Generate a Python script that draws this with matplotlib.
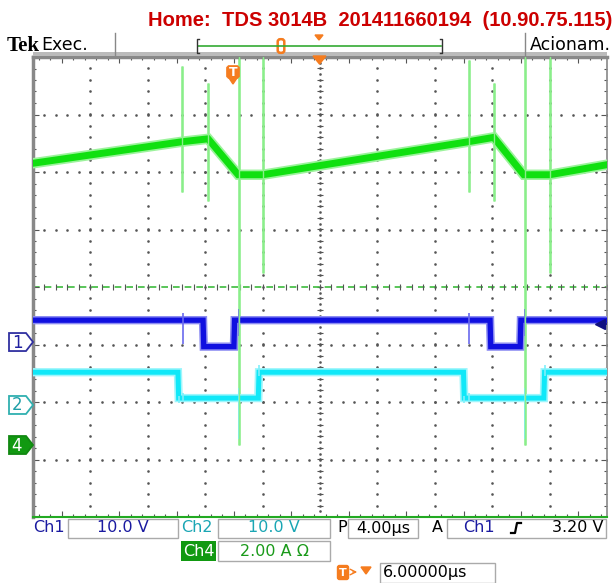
import matplotlib.pyplot as plt
import numpy as np
from matplotlib.patches import Rectangle, Polygon, FancyBboxPatch
from matplotlib.ticker import MultipleLocator

# time axis: 4 us/div, trigger (T) at 0, delay 6 us -> screen spans -14..26 us
T_LEFT, T_RIGHT = -14.0, 26.0
US_PER_DIV = 4.0

# channel settings (volts or amps per div, ground position in divisions from centre)
ch1_scale, ch1_ground = 10.0, -0.957
ch2_scale, ch2_ground = 10.0, -2.052
ch4_scale, ch4_ground = 2.0, -2.748
ch1_trig_level = 3.2

# Ch1 (blue) gate signal
ch1_t = [-14, -2.15, -2.1, 0.0, 0.05, 17.85, 17.9, 19.95, 20.0, 26]
ch1_v = [3.8, 3.8, -0.8, -0.8, 3.8, 3.8, -0.8, -0.8, 3.8, 3.8]
ch1_spike_t = [-3.55, 0.35, 16.4, 20.3]
ch1_spike_lo = [-0.3, 1.0, -0.3, 1.0]
ch1_spike_hi = [5.0, 5.8, 5.0, 5.8]

# Ch2 (cyan) gate signal
ch2_t = [-14, -3.9, -3.85, 1.7, 1.75, 16.0, 16.05, 21.6, 21.65, 26]
ch2_v = [5.7, 5.7, 1.2, 1.2, 5.7, 5.7, 1.2, 1.2, 5.7, 5.7]
ch2_spike_t = [-3.85, -3.55, 0.35, 1.75, 16.05, 16.4, 20.3, 21.65]
ch2_spike_lo = [0.4, 0.5, -6.0, 5.0, 0.4, 0.5, -6.0, 5.0]
ch2_spike_hi = [1.5, 2.0, 3.0, 7.0, 1.5, 2.0, 3.0, 7.0]

# Ch4 (green) current
ch4_t = [-14, -3.6, -1.8, 0.3, 2.0, 16.35, 18.1, 20.2, 22.0, 26]
ch4_a = [9.8, 10.55, 10.65, 9.4, 9.4, 10.55, 10.7, 9.4, 9.4, 9.75]
ch4_spike_t = [-3.6, -1.8, 0.35, 2.0, 16.35, 18.1, 20.3, 22.0]
ch4_spike_lo = [8.8, 8.5, 0.0, 6.0, 8.8, 8.5, 0.0, 6.0]
ch4_spike_hi = [13.2, 12.6, 14.5, 14.5, 13.4, 12.6, 14.5, 14.5]

BLUE = '#1010E0'
CYAN = '#10E8F8'
GREEN = '#10E010'
SPIKE = '#8AEE8A'
ORANGE = '#F57C1F'
RED = '#CC0000'


def to_div(vals, scale, ground):
    return [ground + v / scale for v in vals]


W, H = 614, 583
fig = plt.figure(figsize=(W / 100, H / 100), dpi=100)
fig.patch.set_facecolor('white')

ax = fig.add_axes([33 / W, (H - 517) / H, 574 / W, 460 / H])
ax.set_xlim(T_LEFT, T_RIGHT)
ax.set_ylim(-4, 4)
ax.set_facecolor('white')

# graticule dots
minor = US_PER_DIV / 5
xs_minor = np.arange(T_LEFT, T_RIGHT + 0.01, minor)
ys_minor = np.arange(-4, 4.01, 0.2)
for gy in [-3, -2, -1, 1, 2, 3]:
    ax.plot(xs_minor, [gy] * len(xs_minor), ls='none', marker='s', ms=0.8,
            color='#555555', zorder=1)
for k in range(1, 10):
    gx = T_LEFT + k * US_PER_DIV
    if k == 5:
        continue
    ax.plot([gx] * len(ys_minor), ys_minor, ls='none', marker='s', ms=0.8,
            color='#555555', zorder=1)

# centre lines
centre_t = T_LEFT + 5 * US_PER_DIV
ys_fine = np.arange(-4, 4.01, 0.1)
ax.plot([centre_t] * len(ys_fine), ys_fine, ls='none', marker='s', ms=0.8,
        color='#555555', zorder=1)
ax.plot([centre_t] * len(ys_minor), ys_minor, ls='none', marker='_', ms=5,
        mew=0.8, color='#555555', zorder=1)
ax.axhline(0, color='#3DBB3D', lw=1.2, ls=(0, (4, 3)), zorder=1)
ax.plot(xs_minor, [0] * len(xs_minor), ls='none', marker='|', ms=4,
        mew=0.8, color='#555555', zorder=1)

# border ticks
ax.xaxis.set_major_locator(MultipleLocator(US_PER_DIV))
ax.xaxis.set_minor_locator(MultipleLocator(minor))
ax.yaxis.set_major_locator(MultipleLocator(1))
ax.yaxis.set_minor_locator(MultipleLocator(0.2))
ax.tick_params(which='both', direction='in', top=True, right=True,
               labelbottom=False, labelleft=False, color='#555555', width=0.8)
ax.tick_params(which='major', length=4)
ax.tick_params(which='minor', length=2.5)
for side in ['left', 'top', 'right']:
    ax.spines[side].set_color('#888888')
ax.spines['left'].set_linewidth(2.5)
ax.spines['top'].set_linewidth(2.5)
ax.spines['right'].set_linewidth(1.2)
ax.spines['bottom'].set_color('#22AA22')
ax.spines['bottom'].set_linewidth(1.5)

# traces: wide pale halo + core, to mimic the noisy band
y1 = to_div(ch1_v, ch1_scale, ch1_ground)
y2 = to_div(ch2_v, ch2_scale, ch2_ground)
y4 = to_div(ch4_a, ch4_scale, ch4_ground)

ax.vlines(ch4_spike_t, to_div(ch4_spike_lo, ch4_scale, ch4_ground),
          to_div(ch4_spike_hi, ch4_scale, ch4_ground), color=SPIKE, lw=1.8, zorder=2)

ax.plot(ch2_t, y2, color='#9FF6FC', lw=6.0, zorder=3, solid_joinstyle='miter')
ax.plot(ch2_t, y2, color=CYAN, lw=3.6, zorder=3, solid_joinstyle='miter')
ax.vlines(ch2_spike_t, to_div(ch2_spike_lo, ch2_scale, ch2_ground),
          to_div(ch2_spike_hi, ch2_scale, ch2_ground), color='#7FEFFA', lw=1.2, zorder=3)

ax.plot(ch1_t, y1, color='#8C8CF2', lw=6.0, zorder=4, solid_joinstyle='miter')
ax.plot(ch1_t, y1, color=BLUE, lw=3.8, zorder=4, solid_joinstyle='miter')
ax.vlines(ch1_spike_t, to_div(ch1_spike_lo, ch1_scale, ch1_ground),
          to_div(ch1_spike_hi, ch1_scale, ch1_ground), color='#6A6AEE', lw=1.2, zorder=4)

ax.plot(ch4_t, y4, color='#9CF39C', lw=7.5, zorder=5, solid_joinstyle='miter')
ax.plot(ch4_t, y4, color=GREEN, lw=5.0, zorder=5, solid_joinstyle='miter')
ax.vlines(ch4_spike_t, to_div(ch4_spike_lo, ch4_scale, ch4_ground),
          to_div(ch4_spike_hi, ch4_scale, ch4_ground), color=SPIKE, lw=1.0, zorder=5)

# Ch1 trigger level arrow on the right edge
trig_y = ch1_ground + ch1_trig_level / ch1_scale
ax.plot([T_RIGHT - 0.5], [trig_y], marker='<', ms=7, color='#101080', zorder=6,
        clip_on=False)
ax.plot([T_RIGHT - 0.5, T_RIGHT], [trig_y, trig_y], color='#101080', lw=1.2, zorder=6)

# ---- overlay in pixel coordinates for header / footer decorations ----
ov = fig.add_axes([0, 0, 1, 1], zorder=10)
ov.set_xlim(0, W)
ov.set_ylim(H, 0)
ov.axis('off')
ov.patch.set_alpha(0)

ov.text(612, 21, 'Home:  TDS 3014B  201411660194  (10.90.75.115)', color=RED,
        fontsize=14.5, fontweight='bold', family='Liberation Sans', ha='right', va='center')
ov.text(7, 46, 'Tek', fontsize=15, fontweight='bold', family='Liberation Serif',
        va='center', ha='left')
ov.text(41, 45, 'Exec.', fontsize=12.5, family='DejaVu Sans', va='center', ha='left')
ov.text(611, 45, 'Acionam.', fontsize=12.5, family='DejaVu Sans', va='center', ha='right')
ov.plot([115, 115], [33, 55], color='#888888', lw=1)
ov.plot([525, 525], [33, 55], color='#888888', lw=1)
ov.add_patch(Rectangle((33, 52), 574, 4, color='#BBBBBB', lw=0))

# record view bar
ov.plot([198, 441], [46, 46], color='#33AA33', lw=1.2)
ov.plot([199, 197, 197, 199], [39, 39, 53, 53], color='#333333', lw=1)
ov.plot([440, 442, 442, 440], [39, 39, 53, 53], color='#333333', lw=1)
ov.add_patch(FancyBboxPatch((278.5, 40), 5, 12, boxstyle='round,pad=0.8,rounding_size=2.5',
                            fc='white', ec=ORANGE, lw=1.8))
ov.add_patch(Polygon([[315, 35], [323, 35], [319, 40]], color=ORANGE))
# centre marker on graticule top
ov.add_patch(Polygon([[313, 56], [326, 56], [319.5, 64]], color=ORANGE))
# trigger position marker
ov.add_patch(FancyBboxPatch((227, 66), 12, 12, boxstyle='round,pad=0.5,rounding_size=3',
                            fc=ORANGE, ec=ORANGE, lw=0.5))
ov.add_patch(Polygon([[229, 78], [237, 78], [233, 84]], color=ORANGE))
ov.text(233, 72.5, 'T', color='white', fontsize=9, fontweight='bold', ha='center',
        va='center', family='DejaVu Sans')


def ground_marker(label, y, edge, face, tcolor):
    pts = [[9, y - 9], [26, y - 9], [33, y], [26, y + 9], [9, y + 9]]
    ov.add_patch(Polygon(pts, closed=True, fc=face, ec=edge, lw=1.3))
    ov.text(17, y + 0.5, label, color=tcolor, fontsize=12, ha='center', va='center',
            family='DejaVu Sans')


def px_y(div):
    return 287 - div * 57.5


ground_marker('1', px_y(ch1_ground), '#3030A0', 'white', '#2020A0')
ground_marker('2', px_y(ch2_ground), '#30B0B0', 'white', '#209FA8')
ground_marker('4', px_y(ch4_ground), '#118811', '#119911', 'white')


def box(x0, x1, y0, y1):
    ov.add_patch(Rectangle((x0, y0), x1 - x0, y1 - y0, fc='white', ec='#AAAAAA', lw=1))


FS = 11.5
ROW1, ROW2, ROW3 = 528, 551, 573
ov.text(33, ROW1, 'Ch1', color='#1A1AA0', fontsize=FS, va='center', family='DejaVu Sans')
box(68, 178, 519, 538)
ov.text(123, ROW1, '10.0 V', color='#1A1AA0', fontsize=FS, va='center', ha='center')
ov.text(181, ROW1, 'Ch2', color='#1AA6B4', fontsize=FS, va='center')
box(218, 330, 519, 538)
ov.text(274, ROW1, '10.0 V', color='#1AA6B4', fontsize=FS, va='center', ha='center')
ov.text(337, ROW1, 'P', color='black', fontsize=FS, va='center')
box(348, 418, 519, 538)
ov.text(383, ROW1, '4.00\u00b5s', color='black', fontsize=FS, va='center', ha='center')
ov.text(432, ROW1, 'A', color='black', fontsize=FS, va='center')
box(447, 606, 519, 538)
ov.text(463, ROW1, 'Ch1', color='#1A1AA0', fontsize=FS, va='center')
ov.plot([511, 515, 517, 521], [533, 533, 523, 523], color='black', lw=1.6)
ov.text(604, ROW1, '3.20 V', color='black', fontsize=FS, va='center', ha='right')

ov.add_patch(Rectangle((181, 541), 35, 20, fc='#119911', ec='none'))
ov.text(198.5, ROW2, 'Ch4', color='white', fontsize=FS, va='center', ha='center')
box(218, 330, 541, 561)
ov.text(274, ROW2, '2.00 A \u03a9', color='#1A9A1A', fontsize=FS, va='center', ha='center')

ov.add_patch(FancyBboxPatch((338, 566), 10, 13, boxstyle='round,pad=0.5,rounding_size=2',
                            fc=ORANGE, ec=ORANGE))
ov.text(343, 572.5, 'T', color='white', fontsize=8, fontweight='bold', ha='center', va='center')
ov.annotate('', xy=(360, 572), xytext=(350, 572),
            arrowprops=dict(arrowstyle='->', color=ORANGE, lw=1))
ov.add_patch(Polygon([[361, 567], [371, 567], [366, 574]], color=ORANGE))
box(380, 495, 563, 583)
ov.text(383, ROW3, '6.00000\u00b5s', color='black', fontsize=FS, va='center', ha='left')

fig.savefig('out.png', dpi=100, facecolor='white')
